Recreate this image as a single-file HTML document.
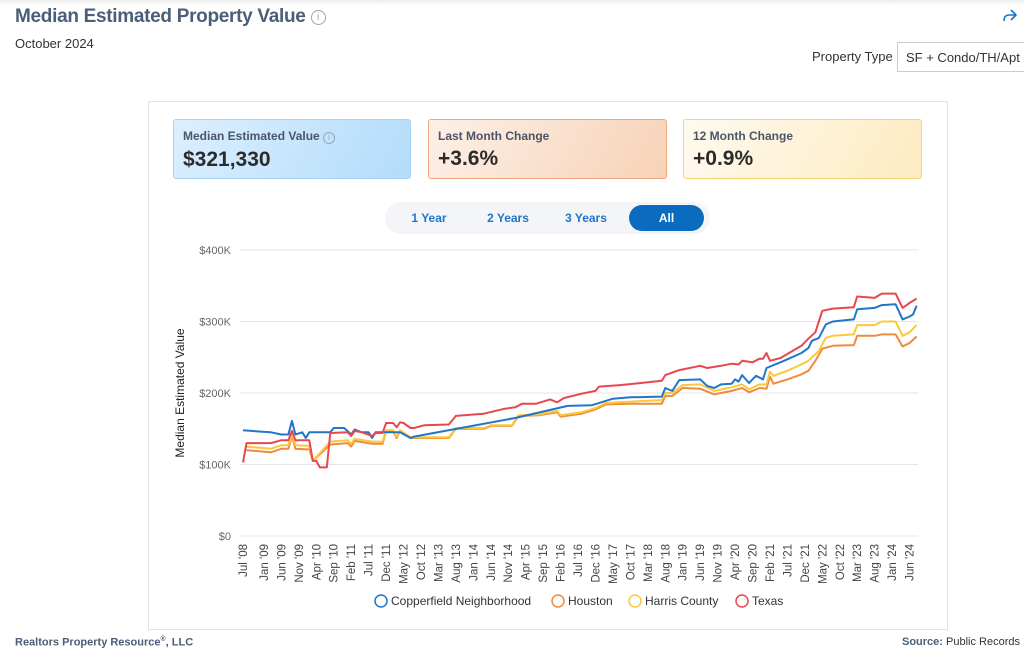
<!DOCTYPE html>
<html><head><meta charset="utf-8">
<style>
body{margin:0;width:1024px;height:655px;background:#fff;font-family:"Liberation Sans",sans-serif;position:relative;overflow:hidden;color:#333}
.abs{position:absolute}
.kpi{position:absolute;top:119px;height:60px;border-radius:3px;box-sizing:border-box;padding:9px 9px}
.kpi .l{font-size:12px;color:#4a5568;font-weight:bold}
.kpi .v{font-size:21px;font-weight:bold;color:#2b2b2b;margin-top:4px}
</style></head><body>
<div class="abs" style="left:0;top:0;width:1024px;height:6px;background:linear-gradient(#eee,#fff)"></div>
<div class="abs" style="left:15px;top:6px;font-size:19px;font-weight:bold;color:#4a5e78;letter-spacing:-0.3px">Median Estimated Property Value <span style="display:inline-block;width:13px;height:13px;border:1.5px solid #9aa5b4;border-radius:50%;font-size:10px;line-height:13px;text-align:center;color:#9aa5b4;vertical-align:2px;font-weight:normal;letter-spacing:0">i</span></div>
<div class="abs" style="left:15px;top:36px;font-size:13px;color:#333">October 2024</div>
<svg class="abs" style="left:1002px;top:8px" width="16" height="16" viewBox="0 0 16 16"><path d="M9 2 L14 7 L9 12 M14 7 H7 Q2 7 2 13" fill="none" stroke="#1a73c8" stroke-width="1.6" stroke-linejoin="round"/></svg>
<div class="abs" style="left:812px;top:49px;font-size:13px;color:#333">Property Type</div>
<div class="abs" style="left:897px;top:42px;width:140px;height:30px;border:1px solid #ccc;box-sizing:border-box;font-size:13px;padding:7px 8px;color:#333;white-space:nowrap">SF + Condo/TH/Apt</div>
<div class="abs" style="left:148px;top:101px;width:800px;height:529px;border:1px solid #e3e3e3;box-sizing:border-box"></div>
<div class="kpi" style="left:173px;width:238px;background:linear-gradient(120deg,#dcefff,#b3dcfa);border:1px solid #a9d3f5"><div class="l">Median Estimated Value <span style="display:inline-block;width:10px;height:10px;border:1px solid #9aa5b4;border-radius:50%;font-size:8px;line-height:10px;text-align:center;color:#9aa5b4;font-weight:normal">i</span></div><div class="v">$321,330</div></div>
<div class="kpi" style="left:428px;width:239px;background:linear-gradient(120deg,#fdf0e7,#f7d2b7);border:1px solid #efa77b"><div class="l">Last Month Change</div><div class="v">+3.6%</div></div>
<div class="kpi" style="left:683px;width:239px;background:linear-gradient(120deg,#fffaf0,#fdebc0);border:1px solid #f8d773"><div class="l">12 Month Change</div><div class="v">+0.9%</div></div>
<div class="abs" style="left:385px;top:202px;width:325px;height:32px;background:#f3f5f8;border-radius:16px"></div>
<div class="abs" style="left:400px;top:211px;width:58px;text-align:center;font-size:12px;font-weight:bold;color:#1f77c9">1 Year</div>
<div class="abs" style="left:475px;top:211px;width:66px;text-align:center;font-size:12px;font-weight:bold;color:#1f77c9">2 Years</div>
<div class="abs" style="left:553px;top:211px;width:66px;text-align:center;font-size:12px;font-weight:bold;color:#1f77c9">3 Years</div>
<div class="abs" style="left:629px;top:205px;width:75px;height:26px;border-radius:13px;background:#0b6cbf;color:#fff;text-align:center;line-height:26px;font-size:12px;font-weight:bold">All</div>
<svg class="abs" style="left:0;top:0" width="1024" height="655" id="chart"></svg>
<div class="abs" style="left:15px;top:636px;font-size:11px;font-weight:bold;color:#4a5e78;white-space:nowrap">Realtors Property Resource<sup style="font-size:7px">®</sup>, LLC</div>
<div class="abs" style="right:4px;top:636px;font-size:11px;color:#333;white-space:nowrap"><b style="color:#4a5e78">Source:</b> Public Records</div>
<script>
const yTicks=[0,100,200,300,400];
const xLabelIdx=[0,6,11,16,21,26,31,36,41,46,51,56,61,66,71,76,81,86,91,96,101,106,111,116,121,126,131,136,141,146,151,156,161,166,171,176,181,186,191];
const xLabels=["Jul '08","Jan '09","Jun '09","Nov '09","Apr '10","Sep '10","Feb '11","Jul '11","Dec '11","May '12","Oct '12","Mar '13","Aug '13","Jan '14","Jun '14","Nov '14","Apr '15","Sep '15","Feb '16","Jul '16","Dec '16","May '17","Oct '17","Mar '18","Aug '18","Jan '19","Jun '19","Nov '19","Apr '20","Sep '20","Feb '21","Jul '21","Dec '21","May '22","Oct '22","Mar '23","Aug '23","Jan '24","Jun '24"];
const seriesNames=["Copperfield Neighborhood","Houston","Harris County","Texas"];
const seriesColors=["#1f77c9","#f08a3c","#fcc83a","#e8474f"];
const copperIdx=[0,5,8,11,13,14,15,17,18,19,25,26,29,31,32,34,36,37,38,45,48,49,78,93,100,106,111,120,121,123,125,131,133,135,137,140,141,142,143,145,147,149,150,155,160,162,163,165,167,169,175,176,181,183,187,189,191,192,193];
const copperVal=[148,146,145,142,142,161,142,145,137,145,145,151,151,142,149,145,145,137,145,145,137,139,165,182,183,192,194,195,207,203,218,219,210,207,212,213,219,216,225,214,224,219,235,245,256,263,273,277,296,300,303,317,319,323,324,303,307,310,322];
const houstonIdx=[1,8,11,13,14,15,19,20,25,30,31,32,37,40,41,43,44,45,48,59,61,69,71,77,79,85,90,91,97,101,104,111,120,121,123,126,131,135,140,143,145,148,150,151,152,156,160,162,164,166,169,175,176,181,183,187,189,191,193];
const houstonVal=[120,117,122,122,140,122,121,105,128,130,125,133,129,129,147,147,137,147,137,137,150,150,154,154,168,169,173,167,171,177,184,185,185,196,196,207,206,198,203,207,201,207,206,223,213,219,226,231,245,262,266,267,280,280,282,282,265,270,279];
const harrisIdx=[1,8,11,13,14,15,19,20,25,30,31,32,37,40,41,43,44,45,48,59,61,69,71,77,79,85,90,91,97,101,104,111,120,121,123,126,131,135,140,143,145,148,150,151,152,156,160,162,165,167,169,175,176,181,183,187,189,191,193];
const harrisVal=[125,122,127,127,143,127,126,105,132,134,129,136,132,132,148,148,139,148,138,138,151,151,155,155,169,170,175,169,173,179,186,188,190,200,200,211,212,203,208,212,205,212,212,230,224,231,240,245,259,277,280,282,295,295,300,300,280,285,295];
const texasIdx=[0,1,8,11,13,14,15,19,20,21,22,24,25,30,31,32,34,37,38,40,41,43,44,45,46,48,49,52,59,61,69,75,78,80,84,88,90,92,97,101,102,108,114,120,121,125,131,133,137,140,142,143,146,148,149,150,151,154,160,162,164,166,169,175,176,181,183,187,189,191,193];
const texasVal=[103,130,130,134,134,147,134,134,105,105,96,96,144,145,140,147,145,140,144,144,158,158,152,159,158,151,151,155,156,168,171,178,180,185,185,191,187,193,199,203,209,211,214,217,225,232,238,235,238,241,240,245,243,248,248,256,245,249,266,276,285,315,318,320,335,333,339,339,319,326,332];

const NS="http://www.w3.org/2000/svg";
const svg=document.getElementById('chart');
const X0=243,DX=3.49,Y0=536,KY=0.715;
function xs(i){return X0+i*DX;}
function ys(v){return Y0-v*KY;}
function mk(t,a){const e=document.createElementNS(NS,t);for(const k in a)e.setAttribute(k,a[k]);svg.appendChild(e);return e;}
yTicks.forEach(v=>{
  const g=mk('line',{x1:240,x2:918,y1:ys(v),y2:ys(v),stroke:'#e6e6e6','stroke-width':1});
  
  
  const t=mk('text',{x:231,y:ys(v)+4,'text-anchor':'end','font-size':11,fill:'#666','font-family':'Liberation Sans, sans-serif'});
  t.textContent=v===0?'$0':'$'+v+'K';
  
  
});
const yt=mk('text',{x:0,y:0,transform:'translate(184,393) rotate(-90)','text-anchor':'middle','font-size':12,fill:'#222','font-family':'Liberation Sans, sans-serif'});
yt.textContent='Median Estimated Value';


xLabelIdx.forEach((ix,k)=>{
  const x=xs(ix)+4;
  const t=mk('text',{x:0,y:0,transform:`translate(${x},544) rotate(-90)`,'text-anchor':'end','font-size':11.5,fill:'#444','font-family':'Liberation Sans, sans-serif'});
  t.textContent=xLabels[k];
  
  
});
const data=[[copperIdx,copperVal],[houstonIdx,houstonVal],[harrisIdx,harrisVal],[texasIdx,texasVal]];
const order=[1,2,0,3];
order.forEach(s=>{
  const [ix,vv]=data[s];
  const pts=ix.map((i,k)=>xs(i).toFixed(1)+','+ys(vv[k]).toFixed(1)).join(' ');
  const p=mk('polyline',{points:pts,fill:'none',stroke:seriesColors[s],'stroke-width':2,'stroke-linejoin':'round'});
  
  
});
const legX=[374,551,628,735];
seriesNames.forEach((n,s)=>{
  const c=mk('circle',{cx:legX[s]+7,cy:601,r:6,fill:'#fff',stroke:seriesColors[s],'stroke-width':1.5});
  
  
  const t=mk('text',{x:legX[s]+17,y:605,'font-size':12,fill:'#333','font-family':'Liberation Sans, sans-serif'});
  t.textContent=n;
  
  
});
</script>
</body></html>
